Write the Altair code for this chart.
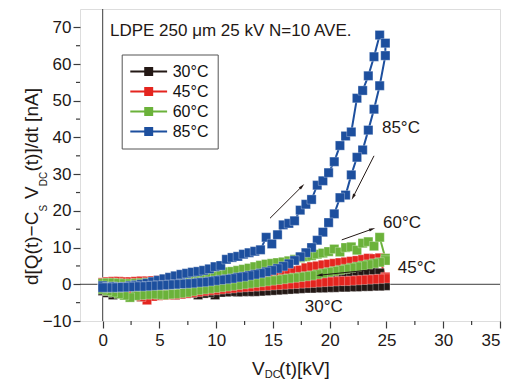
import math
import altair as alt
import pandas as pd

FONT = "Liberation Sans"

SERIES = ["30°C", "45°C", "60°C", "85°C"]
COLORS = ["#231815", "#e4251f", "#6bb23a", "#1d4f9e"]

# applied voltage, rising branch and falling branch [kV]
V_UP = [0.0, 0.4, 0.9, 1.4, 1.9, 2.4, 2.9, 3.4, 3.9, 4.4, 4.9, 5.4, 5.9, 6.4, 6.9,
        7.4, 7.9, 8.4, 8.9, 9.4, 9.9, 10.4, 10.9, 11.4, 11.9, 12.4, 12.9, 13.4, 13.9,
        14.4, 14.9, 15.4, 15.9, 16.4, 16.9, 17.4, 17.9, 18.4, 18.9, 19.4, 19.9, 20.4,
        20.9, 21.4, 21.9, 22.4, 22.9, 23.4, 23.9, 24.4]
V_DOWN = [24.9, 24.9, 24.4, 23.9, 23.4, 22.9, 22.4, 21.9, 21.4, 20.9, 20.4, 19.9, 19.4,
          18.9, 18.4, 17.9, 17.4, 16.9, 16.4, 15.9, 15.4, 14.9, 14.4, 13.9, 13.4, 12.9,
          12.4, 11.9, 11.4, 10.9, 10.4, 9.9, 9.4, 8.9, 8.4, 7.9, 7.4, 6.9, 6.4, 5.9, 5.4,
          4.9, 4.4, 3.9, 3.4, 2.9, 2.4, 1.9, 1.4, 0.9, 0.4, 0.0]

# current [nA]
UP30 = [0.3, 0.5, 0.6, 0.6, 0.5, 0.4, 0.4, 0.5, 0.5, 0.6, 0.7, 0.7, 0.8, 0.8, 0.9, 0.9,
        1.0, 1.0, 1.1, 1.1, 1.2, 1.2, 1.3, 1.3, 1.4, 1.4, 1.5, 1.5, 1.6, 1.7, 1.7, 1.8,
        1.9, 1.9, 2.0, 2.1, 2.1, 2.2, 2.3, 2.4, 2.5, 2.5, 2.6, 2.7, 2.9, 3.4, 3.0, 3.1,
        3.3, 3.1]
DOWN30 = [-0.2, -0.4, -0.5, -0.5, -0.6, -0.6, -0.7, -0.7, -0.8, -0.8, -0.9, -0.9, -1.0,
          -1.0, -1.1, -1.1, -1.2, -1.3, -1.4, -1.5, -1.6, -1.7, -1.8, -1.9, -2.0, -2.0,
          -2.0, -2.1, -2.0, -2.1, -2.2, -2.9, -2.3, -2.5, -2.9, -2.4, -2.5, -2.6, -2.9,
          -2.6, -2.7, -2.8, -2.8, -3.1, -3.4, -3.0, -2.8, -2.7, -2.6, -2.9, -2.3, -1.8]
UP45 = [0.5, 0.7, 0.8, 0.8, 0.7, 0.7, 0.8, 0.9, 0.9, 1.0, 1.1, 1.2, 1.2, 1.3, 1.4, 1.5,
        1.6, 1.7, 1.8, 1.9, 2.0, 2.2, 2.4, 2.8, 2.8, 2.9, 3.0, 3.0, 3.1, 3.2, 3.3, 3.4,
        3.5, 3.6, 3.7, 3.9, 4.5, 4.8, 5.0, 5.3, 5.5, 5.7, 5.9, 6.1, 6.3, 6.5, 6.8, 7.1,
        7.0, 7.2]
DOWN45 = [2.0, 1.6, 1.5, 1.4, 1.3, 1.2, 1.1, 1.0, 0.9, 0.9, 0.8, 0.7, 0.6, 0.5, 0.4, 0.3,
          0.2, 0.1, 0.0, -0.1, -0.2, -0.3, -0.4, -0.5, -0.6, -0.7, -0.8, -0.9, -1.1,
          -1.2, -1.4, -1.6, -1.7, -1.9, -2.1, -2.3, -2.5, -2.7, -2.9, -2.9, -3.0, -3.1,
          -3.3, -4.3, -3.4, -3.0, -2.7, -2.5, -2.2, -1.9, -1.6, -1.3]
UP60 = [0.3, 0.4, 0.4, 0.3, 0.2, 0.2, 0.3, 0.4, 0.5, 0.6, 0.8, 0.9, 1.0, 1.1, 1.2, 1.4,
        1.5, 1.7, 1.9, 2.1, 2.3, 2.6, 3.4, 3.5, 3.8, 4.1, 4.4, 4.8, 5.2, 5.5, 5.7, 5.9,
        6.1, 6.4, 6.8, 7.2, 7.5, 7.8, 8.2, 8.5, 8.9, 9.6, 8.8, 10.0, 10.2, 9.3, 11.2,
        11.6, 10.4, 12.8]
DOWN60 = [7.1, 6.5, 6.0, 5.7, 5.4, 5.1, 4.8, 4.5, 4.2, 3.9, 3.6, 3.3, 3.0, 2.7, 2.4, 2.2,
          2.0, 1.8, 1.6, 1.4, 1.2, 1.0, 0.8, 0.6, 0.4, 0.2, 0.0, -0.2, -0.4, -0.6, -0.8,
          -1.0, -1.2, -1.4, -1.6, -1.9, -2.2, -2.4, -2.6, -2.7, -2.9, -2.8, -2.7, -2.8,
          -2.9, -3.1, -3.6, -3.0, -2.6, -2.2, -1.8, -1.4]
UP85 = [-0.4, -0.8, -0.6, -0.9, -0.7, -0.4, -0.2, 0.0, 0.3, 0.7, 1.1, 1.5, 1.9, 2.3, 2.7,
        3.0, 3.3, 3.5, 3.8, 4.2, 4.8, 5.1, 6.8, 7.3, 7.6, 8.2, 8.6, 9.0, 9.4, 12.8, 11.0,
        13.5, 16.2, 16.6, 17.3, 20.2, 21.8, 23.1, 27.0, 28.2, 30.4, 33.4, 37.8, 40.4,
        41.5, 50.7, 52.8, 56.8, 62.0, 67.9]
DOWN85 = [65.7, 62.3, 54.1, 47.7, 42.0, 36.6, 34.6, 29.8, 24.3, 23.6, 19.2, 16.8, 14.2,
          12.0, 10.0, 8.6, 7.5, 6.5, 5.6, 4.9, 4.3, 3.8, 3.4, 3.0, 2.7, 2.4, 2.1, 1.9, 1.6,
          1.4, 1.2, 1.0, 0.8, 0.6, 0.5, 0.3, 0.2, 0.1, 0.0, -0.1, -0.2, -0.3, -0.4, -0.5,
          -0.6, -0.6, -0.7, -0.8, -0.8, -0.9, -0.9, -0.9]

X_TICKS = [0, 5, 10, 15, 20, 25, 30, 35]
X_MINOR = [2.5, 7.5, 12.5, 17.5, 22.5, 27.5, 32.5]
Y_TICKS = [-10, 0, 10, 20, 30, 40, 50, 60, 70]
Y_MINOR = [-5, 5, 15, 25, 35, 45, 55, 65]

ANN_TEXT = ["LDPE 250 μm 25 kV N=10 AVE.", "85°C", "60°C", "45°C", "30°C"]
ANN_V = [0.64, 24.6, 24.7, 26.0, 17.8]
ANN_I = [67.7, 41.3, 15.3, 3.0, -7.6]

# arrows: start (V, I) -> tip (V, I)
ARR_V0 = [14.74, 23.9, 21.06, 23.55]
ARR_I0 = [18.0, 35.0, 12.1, 3.9]
ARR_V1 = [17.53, 22.08, 23.7, 19.15]
ARR_I1 = [26.6, 23.9, 15.0, 2.5]

W, H = 420, 312
X_DOM = [-2, 35]
Y_DOM = [-10, 75]

rows = []
curves = {"30°C": (UP30, DOWN30), "45°C": (UP45, DOWN45),
          "60°C": (UP60, DOWN60), "85°C": (UP85, DOWN85)}
for s in SERIES:
    up, down = curves[s]
    for k, (v, c) in enumerate(zip(V_UP + V_DOWN, up + down)):
        rows.append({"T": s, "V": v, "I": c, "idx": k})
df = pd.DataFrame(rows)

XS = alt.Scale(domain=X_DOM, nice=False, zero=False)
YS = alt.Scale(domain=Y_DOM, nice=False, zero=False)

# legend glyph: a line with a square on it (path units = 8 px)
legend_path = ("M-2.3,-0.12H2.3V0.12H-2.3Z "
               "M-0.56,-0.56H0.56V0.56H-0.56Z")
LEG = alt.Legend(title=None, orient="none", legendX=41.7, legendY=45.5,
                 symbolType=legend_path, symbolSize=256, symbolStrokeWidth=0,
                 symbolOffset=10, rowPadding=4, padding=9, labelFont=FONT,
                 labelFontSize=16, labelColor="#111111", labelOffset=16,
                 strokeColor="#555555", fillColor="white", direction="vertical")
color = alt.Color("T:N", scale=alt.Scale(domain=SERIES, range=COLORS), legend=LEG)

x_axis = alt.Axis(values=X_TICKS, title=None, domain=False, grid=False, tickSize=7,
                  tickColor="#3c3c3c", tickWidth=1.2, labelFont=FONT, labelFontSize=17,
                  labelColor="#231815", labelPadding=4, labelOverlap=False)
y_axis = alt.Axis(values=Y_TICKS, title=None, domain=False, grid=False, tickSize=7,
                  tickColor="#3c3c3c", tickWidth=1.2, labelFont=FONT, labelFontSize=17,
                  labelColor="#231815", labelPadding=2, labelOverlap=False)

base = alt.Chart(df)
lines = base.mark_line(strokeWidth=2).encode(
    x=alt.X("V:Q", scale=XS, axis=x_axis),
    y=alt.Y("I:Q", scale=YS, axis=y_axis),
    color=color,
    order=alt.Order("idx:Q"),
)
points = base.mark_point(shape="square", filled=True, size=85, opacity=1,
                         stroke="white", strokeWidth=0.5, strokeOpacity=0.6).encode(
    x=alt.X("V:Q", scale=XS, axis=x_axis),
    y=alt.Y("I:Q", scale=YS, axis=y_axis),
    color=color,
)

zero_v = alt.Chart(pd.DataFrame({"V": [0]})).mark_rule(color="#3c3c3c", strokeWidth=1).encode(
    x=alt.X("V:Q", scale=XS, axis=x_axis), y=alt.value(0), y2=alt.value(H))
zero_h = alt.Chart(pd.DataFrame({"I": [0]})).mark_rule(color="#3c3c3c", strokeWidth=1).encode(
    y=alt.Y("I:Q", scale=YS, axis=y_axis), x=alt.value(0), x2=alt.value(W))

minor_x = alt.Chart(pd.DataFrame({"V": X_MINOR})).mark_rule(color="#3c3c3c", strokeWidth=1.2).encode(
    x=alt.X("V:Q", scale=XS, axis=x_axis), y=alt.value(H), y2=alt.value(H + 4))
minor_y = alt.Chart(pd.DataFrame({"I": Y_MINOR})).mark_rule(color="#3c3c3c", strokeWidth=1.2).encode(
    y=alt.Y("I:Q", scale=YS, axis=y_axis), x=alt.value(0), x2=alt.value(-4))

ann = alt.Chart(pd.DataFrame({"txt": ANN_TEXT, "V": ANN_V, "I": ANN_I})).mark_text(
    font=FONT, fontSize=17, align="left", baseline="alphabetic", color="#231815").encode(
    x=alt.X("V:Q", scale=XS, axis=x_axis), y=alt.Y("I:Q", scale=YS, axis=y_axis), text="txt:N")

sx = W / (X_DOM[1] - X_DOM[0])
sy = H / (Y_DOM[1] - Y_DOM[0])
angles = []
for v0, i0, v1, i1 in zip(ARR_V0, ARR_I0, ARR_V1, ARR_I1):
    a = math.degrees(math.atan2((v1 - v0) * sx, (i1 - i0) * sy)) % 360
    angles.append(a)
arr_df = pd.DataFrame({"V0": ARR_V0, "I0": ARR_I0, "V1": ARR_V1, "I1": ARR_I1, "ang": angles})
arr_line = alt.Chart(arr_df).mark_rule(color="#231815", strokeWidth=1).encode(
    x=alt.X("V0:Q", scale=XS, axis=x_axis), y=alt.Y("I0:Q", scale=YS, axis=y_axis),
    x2="V1:Q", y2="I1:Q")
arr_head = alt.Chart(arr_df).mark_point(
    shape="M0,-1L0.42,0.7L-0.42,0.7Z", filled=True, size=55, color="#231815", opacity=1).encode(
    x=alt.X("V1:Q", scale=XS, axis=x_axis), y=alt.Y("I1:Q", scale=YS, axis=y_axis),
    angle=alt.Angle("ang:Q", scale=None))

one = pd.DataFrame({"a": [0]})


def piece(txt, x, y, size, angle=0):
    return alt.Chart(one).mark_text(
        font=FONT, fontSize=size, align="left", baseline="alphabetic",
        angle=angle, color="#231815").encode(
        x=alt.value(x), y=alt.value(y), text=alt.value(txt))


xtitle = [piece("V", 172, 366, 19), piece("DC", 184.7, 369, 11), piece("(t)[kV]", 199.1, 366, 19)]
ytitle = [piece("d[Q(t)−C", -42.5, 276, 19, 270), piece("S", -33.5, 202.6, 10, 270),
          piece("V", -42.5, 190, 19, 270), piece("DC", -33.5, 177.3, 10, 270),
          piece("(t)]/dt [nA]", -42.5, 162.5, 19, 270)]

chart = alt.layer(
    lines, zero_v, zero_h, minor_x, minor_y, points, arr_line, arr_head, ann,
    *xtitle, *ytitle
).properties(
    width=W, height=H,
    autosize=alt.AutoSizeParams(type="none"),
    padding={"left": 72, "top": 1, "right": 7, "bottom": 58},
).configure_view(stroke="#3c3c3c", strokeWidth=1.5).configure_axis(
    labelOverlap=False
).configure(background="white")

chart.save("out.html", embed_options={"renderer": "svg", "actions": False})
